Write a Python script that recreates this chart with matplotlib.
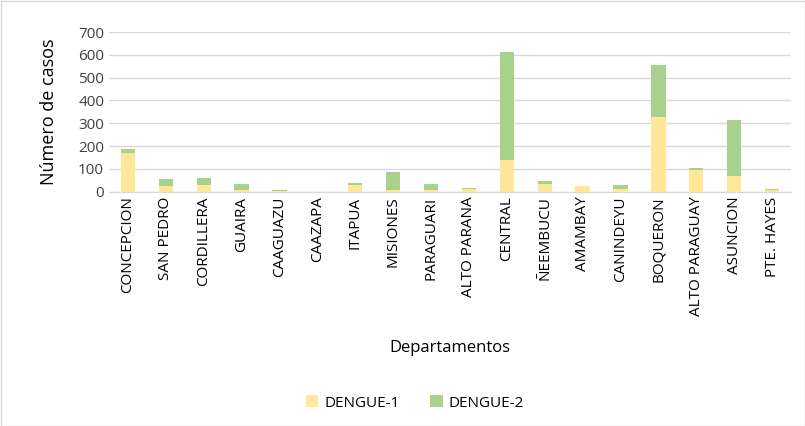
import matplotlib
matplotlib.use("Agg")
import matplotlib.pyplot as plt
from matplotlib.patches import Rectangle

plt.rcParams['font.family'] = ['Open Sans', 'DejaVu Sans']

departamentos = ["CONCEPCION", "SAN PEDRO", "CORDILLERA", "GUAIRA", "CAAGUAZU", "CAAZAPA",
                 "ITAPUA", "MISIONES", "PARAGUARI", "ALTO PARANA", "CENTRAL", "ÑEEMBUCU",
                 "AMAMBAY", "CANINDEYU", "BOQUERON", "ALTO PARAGUAY", "ASUNCION", "PTE. HAYES"]
dengue1 = [168, 25, 29, 7, 2, 0, 31, 7, 7, 10, 139, 34, 26, 12, 326, 96, 67, 6]
dengue2 = [18, 29, 29, 27, 5, 0, 6, 81, 27, 6, 472, 13, 0, 17, 230, 6, 247, 6]
yticks = [0, 100, 200, 300, 400, 500, 600, 700]

c1 = "#FFE699"
c2 = "#A9D18E"

fig = plt.figure(figsize=(8.05, 4.26), dpi=100)
ax = fig.add_axes([109/805, 1 - 191.7/426, (791-109)/805, (191.7-32)/426])

x = list(range(len(departamentos)))
ax.bar(x, dengue1, width=0.38, color=c1, label="DENGUE-1", zorder=3)
ax.bar(x, dengue2, width=0.38, bottom=dengue1, color=c2, label="DENGUE-2", zorder=3)

ax.set_xlim(-0.5, len(departamentos) - 0.5)
ax.set_ylim(0, 700)
ax.set_yticks(yticks)
ax.set_yticklabels([str(v) for v in yticks], fontsize=11, color="#404040")
ax.yaxis.grid(True, color="#D9D9D9", linewidth=1, zorder=0)
for s in ["top", "right", "left"]:
    ax.spines[s].set_visible(False)
ax.spines["bottom"].set_color("#D9D9D9")
ax.tick_params(axis="both", length=0)
ax.set_xticks(x)
ax.set_xticklabels(departamentos, rotation=90, fontsize=11, color="#000000")
ax.set_ylabel("Número de casos", fontsize=13, color="#000000")
ax.yaxis.set_label_coords(-(109 - 58) / (791 - 109), 0.5)
ax.set_xlabel("Departamentos", fontsize=12, color="#000000")
ax.xaxis.set_label_coords(0.5, -(340 - 191.7) / (191.7 - 32))

ax.legend(loc="center", bbox_to_anchor=(415/805, 1 - 403/426), bbox_transform=fig.transFigure,
          ncol=2, frameon=False, fontsize=11, handlelength=0.8, handleheight=0.8,
          columnspacing=2.0, handletextpad=0.4)

fig.patches.append(Rectangle((0.5/805, 0.5/426), 1 - 1/805, 1 - 1/426, transform=fig.transFigure,
                             fill=False, edgecolor="#D9D9D9", linewidth=1))

fig.savefig("out.png", dpi=100)
